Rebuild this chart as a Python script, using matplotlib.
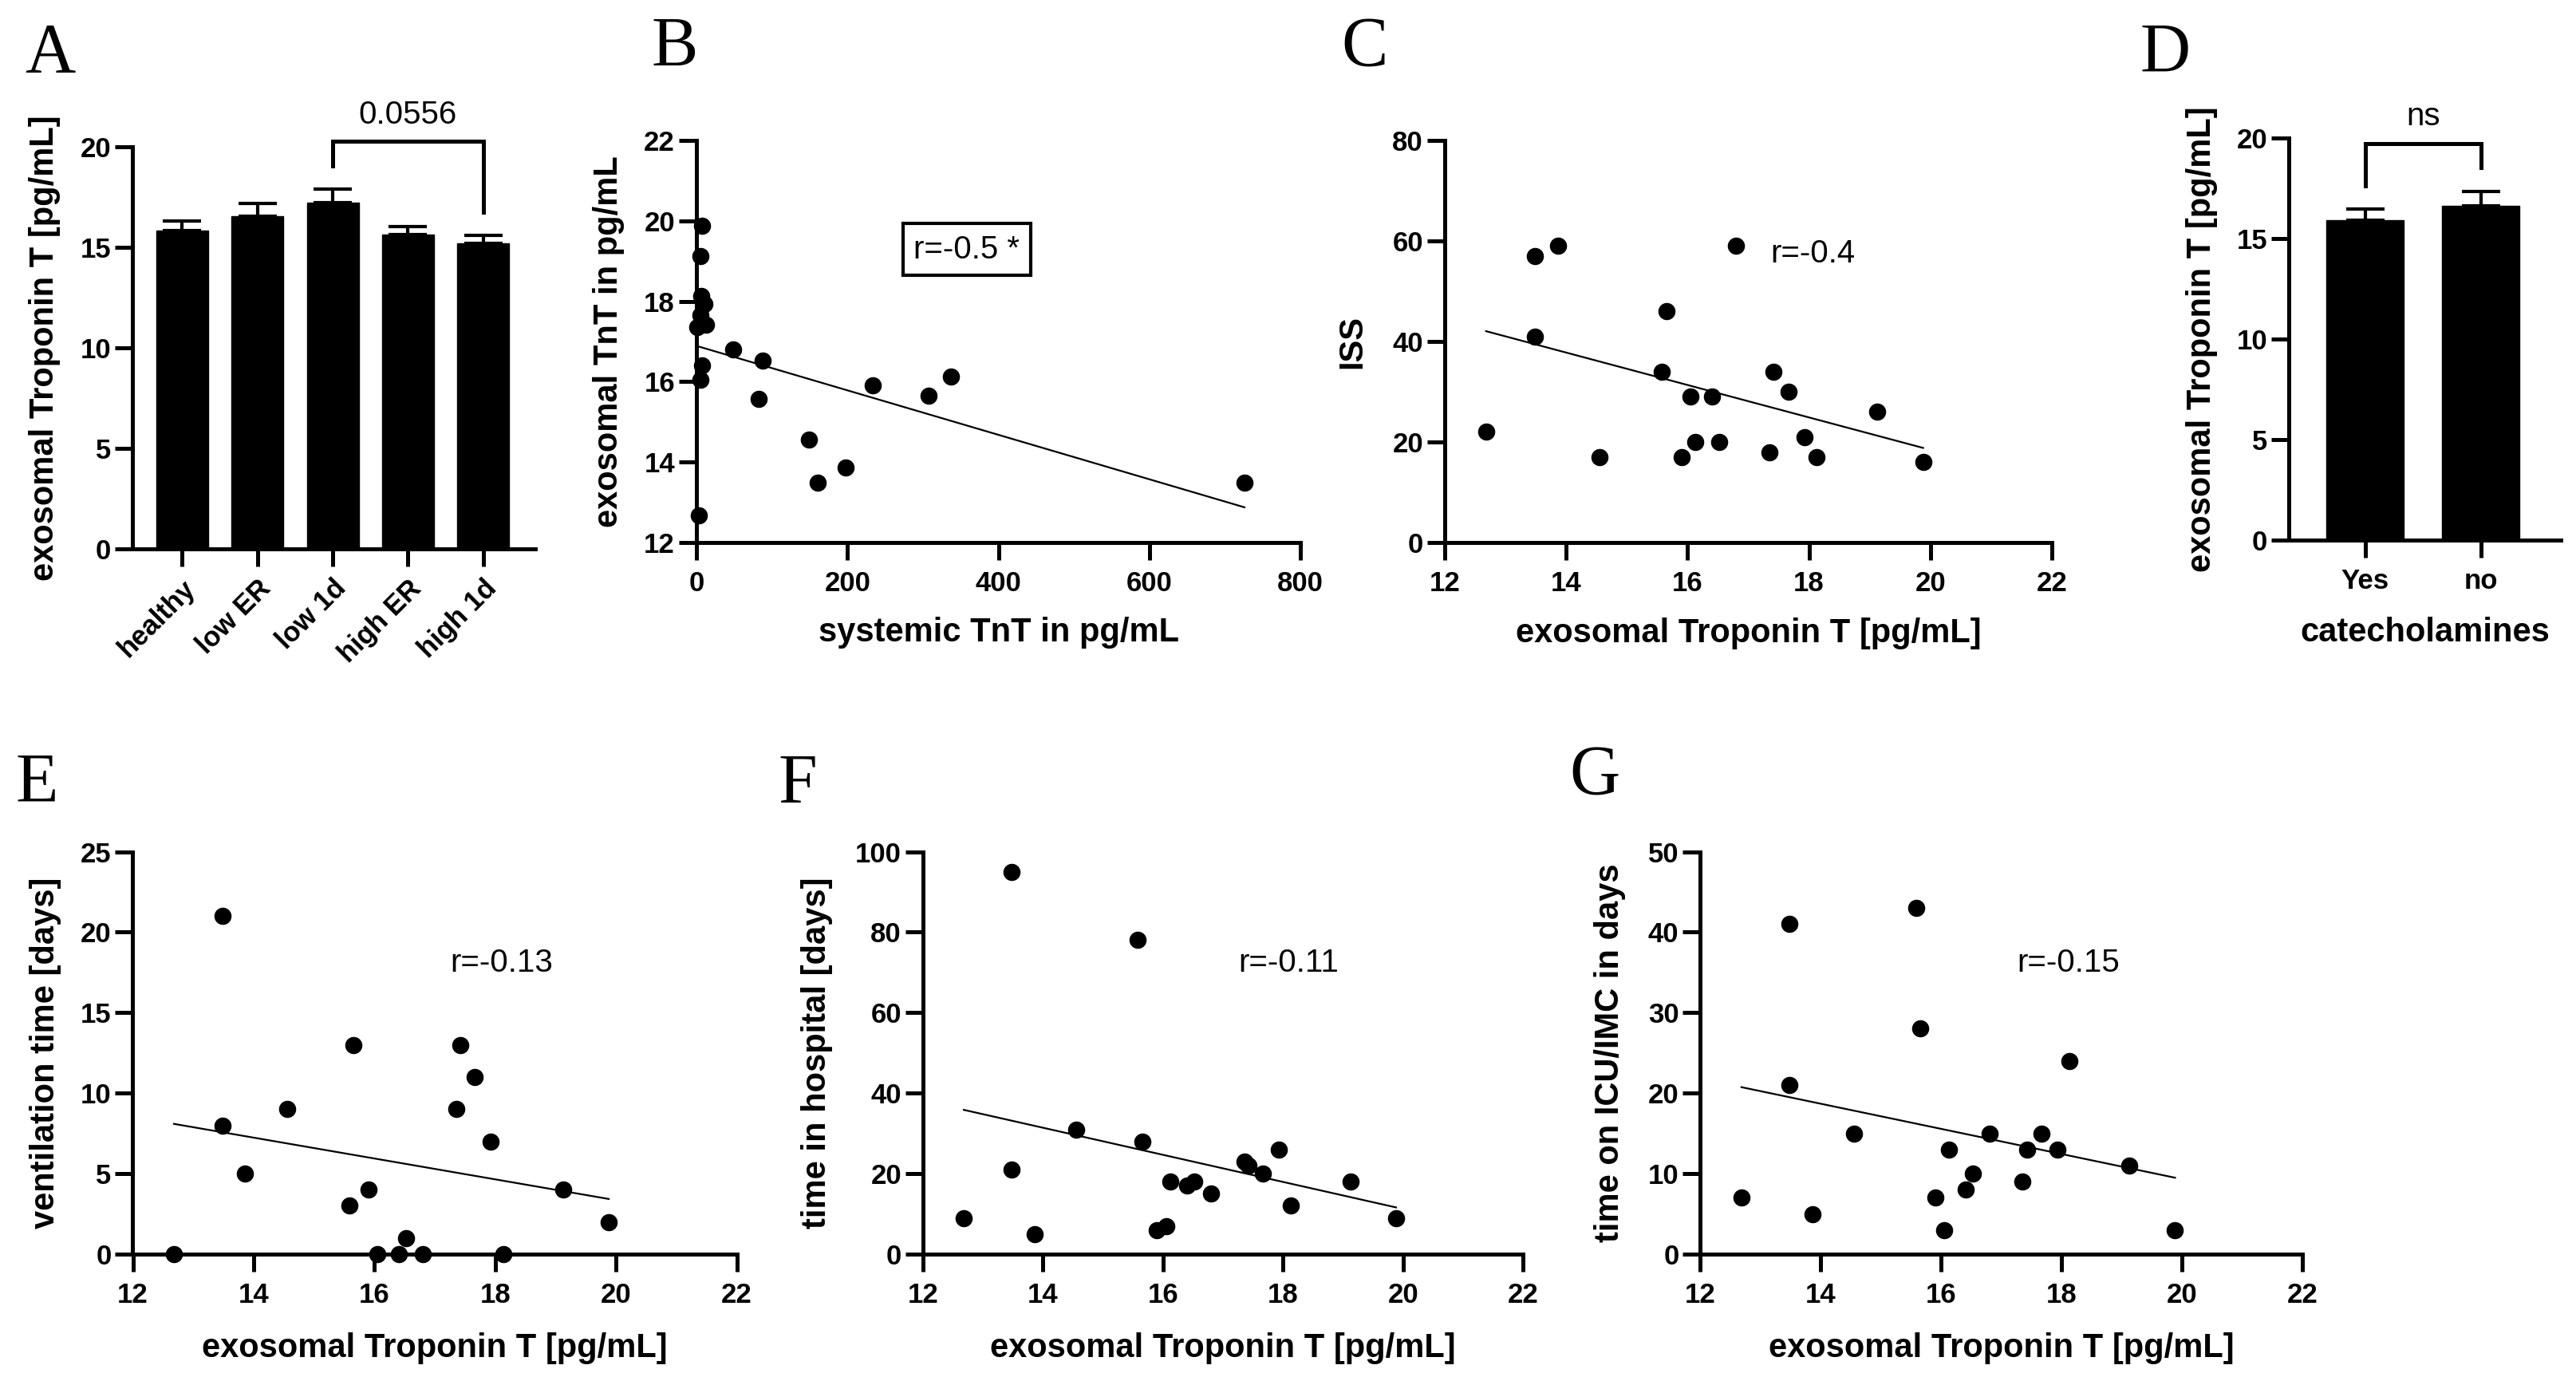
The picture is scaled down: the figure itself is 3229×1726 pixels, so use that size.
import numpy as np
import matplotlib
matplotlib.use('Agg')
import matplotlib.pyplot as plt

# ---------------- data ----------------
# A: exosomal TnT by group (mean, upper SEM)
groups_A = ['healthy', 'low ER', 'low 1d', 'high ER', 'high 1d']
mean_A = [15.83, 16.55, 17.24, 15.65, 15.20]
sem_A = [0.48, 0.62, 0.65, 0.39, 0.39]
p_A = '0.0556'

# D: catecholamines yes / no
groups_D = ['Yes', 'no']
mean_D = [15.92, 16.63]
sem_D = [0.54, 0.72]
p_D = 'ns'

# per patient values (same order in every list, nan = not available)
exo_tnt = [12.68, 13.48, 13.48, 13.86, 14.55, 15.58, 15.65, 15.90, 16.05, 16.12,
           16.40, 16.52, 16.80, 17.35, 17.42, 17.66, 17.93, 18.13, 19.12, 19.88]
sys_tnt = [3, 161, 726, 198, 149, 82, 308, 234, 5, 337,
           7, 88, 49, 1, 13, 5, 11, 6, 5, 7]
iss = [22, 57, 41, 59, 17, 34, 46, 17, 29, 20,
       29, 20, 59, 18, 34, 30, 21, 17, 26, 16]
vent_days = [0, 21, 8, 5, 9, 3, 13, 4, 0, np.nan,
             0, 1, 0, 9, 13, 11, 7, 0, 4, 2]
hosp_days = [9, 95, 21, 5, 31, 78, 28, 6, 7, 18,
             17, 18, 15, 23, 22, 20, 26, 12, 18, 9]
icu_days = [7, 41, 21, 5, 15, 43, 28, 7, 3, 13,
            8, 10, 15, 9, 13, 15, 13, 24, 11, 3]

# ---------------- style ----------------
plt.rcParams['font.family'] = ['Liberation Sans', 'DejaVu Sans']
plt.rcParams['font.weight'] = 'bold'

W, H = 3230, 1726
LW = 3.6      # axis line width (pt)
TICK = 15.5   # tick length (pt)
TICKFS = 25
LABFS = 30
RFS = 29

fig = plt.figure(figsize=(W / 100, H / 100), dpi=100)


def new_ax(l, r, t, b):
    ax = fig.add_axes([l / W, 1 - b / H, (r - l) / W, (b - t) / H])
    for s in ['top', 'right']:
        ax.spines[s].set_visible(False)
    for s in ['left', 'bottom']:
        ax.spines[s].set_linewidth(LW)
    ax.tick_params(width=LW, length=TICK, labelsize=TICKFS)
    ax.tick_params(axis='x', pad=10)
    ax.tick_params(axis='y', pad=4)
    return ax


def place_labels(ax, l, r, t, b, ylab, ydist, xlab=None, xdist=None):
    ax.set_ylabel(ylab, fontsize=LABFS, fontweight='bold')
    ax.yaxis.label.set_va('center')
    ax.yaxis.set_label_coords(-ydist / (r - l), 0.5)
    if xlab is not None:
        ax.set_xlabel(xlab, fontsize=LABFS, fontweight='bold')
        ax.xaxis.label.set_va('center')
        ax.xaxis.set_label_coords(0.5, -xdist / (b - t))


def scatter_panel(ax, x, y, r_text, rx, ry, boxed=False):
    x = np.asarray(x, float)
    y = np.asarray(y, float)
    ok = ~np.isnan(x) & ~np.isnan(y)
    ax.plot(x[ok], y[ok], 'o', color='black', ms=14.5, clip_on=False, zorder=3)
    k, d = np.polyfit(x[ok], y[ok], 1)
    xs = np.array([x[ok].min(), x[ok].max()])
    ax.plot(xs, k * xs + d, color='black', lw=1.6, zorder=2)
    kw = dict(fontsize=RFS, fontweight='normal', va='center')
    if boxed:
        ax.text(rx, ry, r_text, ha='center',
                bbox=dict(boxstyle='square,pad=0.33', fc='white', ec='black', lw=3), **kw)
    else:
        ax.text(rx, ry, r_text, ha='left', **kw)


def bar_panel(ax, names, means, sems, width, ptext, i, j):
    pos = np.arange(len(names))
    ax.bar(pos, means, width=width, color='black', edgecolor='black', zorder=2)
    ax.errorbar(pos, means, yerr=[np.zeros(len(sems)), sems], fmt='none',
                ecolor='black', elinewidth=3, capsize=17, capthick=3, zorder=1)
    tops = np.array(means) + np.array(sems)
    leg1, leg2 = tops[i] + 1.17, tops[j] + 1.17
    top = max(leg1, leg2) + 1.2
    ax.plot([pos[i], pos[i], pos[j], pos[j]], [leg1, top, top, leg2], color='black',
            lw=LW, clip_on=False, solid_joinstyle='miter')
    ax.text((pos[i] + pos[j]) / 2, top + 0.9, ptext, ha='center', va='baseline',
            fontsize=RFS, fontweight='normal')
    ax.set_xticks(pos)
    ax.set_ylim(0, 20)
    ax.set_yticks([0, 5, 10, 15, 20])


# ---------------- A ----------------
pa = (166, 671, 184, 688)
axA = new_ax(*pa)
bar_panel(axA, groups_A, mean_A, sem_A, 0.69, p_A, 2, 4)
axA.set_xlim(-0.66, 4.69)
axA.set_xticklabels(groups_A, rotation=45, ha='right', va='top', rotation_mode='anchor')
axA.tick_params(axis='x', pad=8)
place_labels(axA, *pa, 'exosomal Troponin T [pg/mL]', 110)

# ---------------- B ----------------
pb = (873, 1630, 176, 680)
axB = new_ax(*pb)
scatter_panel(axB, sys_tnt, exo_tnt, 'r=-0.5 *', 358, 19.29, boxed=True)
axB.set_xlim(0, 800)
axB.set_ylim(12, 22)
axB.set_xticks([0, 200, 400, 600, 800])
axB.set_yticks([12, 14, 16, 18, 20, 22])
place_labels(axB, *pb, 'exosomal TnT in pg/mL', 110, 'systemic TnT in pg/mL', 113)

# ---------------- C ----------------
pc = (1811, 2572, 176, 680)
axC = new_ax(*pc)
scatter_panel(axC, exo_tnt, iss, 'r=-0.4', 17.37, 57.5)
axC.set_xlim(12, 22)
axC.set_ylim(0, 80)
axC.set_xticks([12, 14, 16, 18, 20, 22])
axC.set_yticks([0, 20, 40, 60, 80])
place_labels(axC, *pc, 'ISS', 116, 'exosomal Troponin T [pg/mL]', 114)

# ---------------- D ----------------
pd_ = (2869, 3210, 173, 677)
axD = new_ax(*pd_)
bar_panel(axD, groups_D, mean_D, sem_D, 0.67, p_D, 0, 1)
axD.set_xlim(-0.66, 1.69)
axD.set_xticklabels(groups_D)
place_labels(axD, *pd_, 'exosomal Troponin T [pg/mL]', 109, 'catecholamines', 116)

# ---------------- E, F, G ----------------
bottom_panels = [
    ((166.5, 923.6, 1067.5, 1572), vent_days, 25, 5, 'ventilation time [days]', 'r=-0.13', 18.1, 109.5),
    ((1157, 1909.5, 1067.5, 1572), hosp_days, 100, 20, 'time in hospital [days]', 'r=-0.11', 72.4, 133),
    ((2131.5, 2886.5, 1067.5, 1572), icu_days, 50, 10, 'time on ICU/IMC in days', 'r=-0.15', 36.2, 113),
]
for p, vals, ymax, ystep, ylab, rtxt, ry, yd in bottom_panels:
    ax = new_ax(*p)
    scatter_panel(ax, exo_tnt, vals, rtxt, 17.25, ry)
    ax.set_xlim(12, 22)
    ax.set_ylim(0, ymax)
    ax.set_xticks([12, 14, 16, 18, 20, 22])
    ax.set_yticks(np.arange(0, ymax + 1, ystep))
    place_labels(ax, *p, ylab, yd, 'exosomal Troponin T [pg/mL]', 118)

# ---------------- panel letters ----------------
letters = [('A', 31, 90), ('B', 817, 82), ('C', 1681, 82), ('D', 2683, 90),
           ('E', 20, 1005), ('F', 975, 1005), ('G', 1967, 995)]
for s, x, y in letters:
    fig.text(x / W, 1 - y / H, s, fontsize=63, fontweight='normal',
             family=['Liberation Serif', 'DejaVu Serif'], ha='left', va='baseline')

fig.savefig('out.png', dpi=100)
